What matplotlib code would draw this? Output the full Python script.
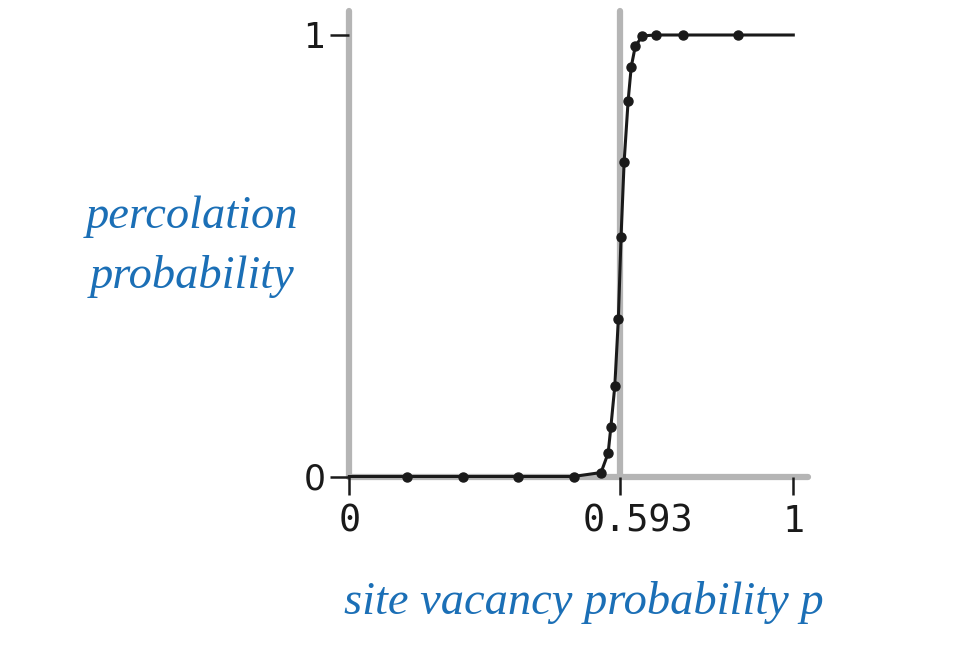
import matplotlib
matplotlib.use('Agg')
import matplotlib.pyplot as plt
from matplotlib.transforms import ScaledTranslation

# --- Data ---
p_values = [0.0, 0.13, 0.255, 0.38, 0.505, 0.567, 0.583, 0.589, 0.598, 0.606,
            0.612, 0.619, 0.628, 0.635, 0.644, 0.660, 0.690, 0.752, 0.876, 1.0]
perc_prob = [0.0, 0.0, 0.0, 0.0, 0.0, 0.009, 0.053, 0.111, 0.205, 0.357,
             0.542, 0.713, 0.851, 0.928, 0.974, 0.998, 1.0, 1.0, 1.0, 1.0]
threshold_pos = 0.61   # where the grey threshold line sits in the figure
x_ticks = [0, threshold_pos, 1]
x_tick_labels = ['0', '0.593', '1']
y_ticks = [0, 1]
y_tick_labels = ['0', '1']

W, H = 974, 660
grey = '#b5b5b5'
ink = '#1a1a1a'
blue = '#1b6fb6'

fig = plt.figure(figsize=(W / 100, H / 100), dpi=100)

# axes placed so that (0,0)->(349,476) px and (1,1)->(793,35) px
x0, x1 = 349.3, 793.3
y0, y1 = 476.5, 35.0
ax = fig.add_axes([x0 / W, 1 - y0 / H, (x1 - x0) / W, (y0 - y1) / H])
ax.set_xlim(0, 1)
ax.set_ylim(0, 1)
for s in ax.spines.values():
    s.set_visible(False)

# --- grey axis lines ---
ax.plot([0, 0], [0, 1.054], color=grey, lw=4.5, solid_capstyle='round', clip_on=False, zorder=1)
ax.plot([0, 1.033], [0, 0], color=grey, lw=4.5, solid_capstyle='round', clip_on=False, zorder=1)
ax.plot([threshold_pos, threshold_pos], [0, 1.054], color=grey, lw=4.5,
        solid_capstyle='round', clip_on=False, zorder=1)

# --- curve: line through all points, markers on inner points only ---
ax.plot(p_values, perc_prob, color=ink, lw=2.2, clip_on=False, zorder=3)
ax.plot(p_values[1:-1], perc_prob[1:-1], 'o', color=ink, ms=6.5, clip_on=False, zorder=4)

# --- ticks ---
ax.set_xticks(x_ticks)
ax.set_xticklabels(x_tick_labels, family='DejaVu Sans Mono', fontsize=26.5, color=ink)
ax.set_yticks(y_ticks)
ax.set_yticklabels(y_tick_labels, family='DejaVu Sans', fontsize=25, color=ink)
ax.tick_params(axis='x', direction='out', length=13, width=1.8, color=ink, pad=6)
ax.tick_params(axis='y', direction='out', length=14, width=1.8, color=ink, pad=3)

# the threshold label sits a little right of its tick in the reference
mid = ax.get_xticklabels()[1]
mid.set_transform(mid.get_transform() + ScaledTranslation(0.18, 0, fig.dpi_scale_trans))

# --- blue italic labels ---
lab = dict(family='Liberation Serif', style='italic', color=blue, fontsize=33.5)
fig.text(192 / W, 1 - 228 / H, 'percolation', ha='center', va='baseline', **lab)
fig.text(192 / W, 1 - 288 / H, 'probability', ha='center', va='baseline', **lab)
fig.text(584 / W, 1 - 614 / H, 'site vacancy probability p', ha='center', va='baseline', **lab)

plt.savefig('out.png', dpi=100)
plt.close(fig)
